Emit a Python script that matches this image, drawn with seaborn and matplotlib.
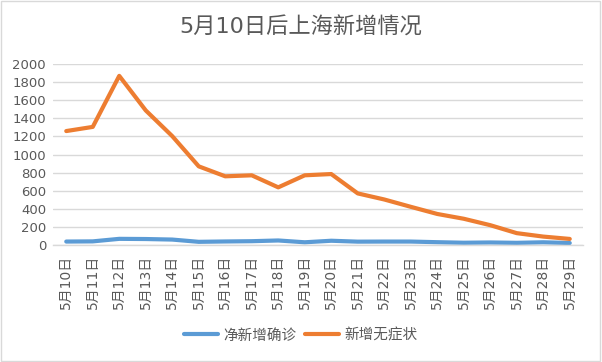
import matplotlib
matplotlib.use("Agg")
import matplotlib.pyplot as plt
import seaborn as sns
import pandas as pd
from matplotlib.patches import Rectangle

dates = ["5月10日", "5月11日", "5月12日", "5月13日", "5月14日", "5月15日", "5月16日",
         "5月17日", "5月18日", "5月19日", "5月20日", "5月21日", "5月22日", "5月23日",
         "5月24日", "5月25日", "5月26日", "5月27日", "5月28日", "5月29日"]
confirmed = [38, 40, 68, 66, 60, 35, 39, 42, 50, 30, 47, 37, 38, 38, 31, 25, 28, 24, 30, 22]
asymptomatic = [1259, 1305, 1869, 1487, 1203, 869, 759, 770, 637, 770, 784, 570,
                503, 422, 343, 290, 219, 131, 93, 67]
series_names = ["净新增确诊", "新增无症状"]
colors = ["#5B9BD5", "#ED7D31"]
yticks = [0, 200, 400, 600, 800, 1000, 1200, 1400, 1600, 1800, 2000]

sns.set_theme(style="white")
plt.rcParams["font.family"] = ["DejaVu Sans", "Noto Sans CJK SC"]

df = pd.DataFrame({
    "date": dates * 2,
    "value": confirmed + asymptomatic,
    "series": [series_names[0]] * len(dates) + [series_names[1]] * len(dates),
})
df["pos"] = list(range(len(dates))) * 2

fig = plt.figure(figsize=(6.02, 3.62), dpi=100)
ax = fig.add_axes([53 / 602, 1 - 245 / 362, (583 - 53) / 602, (245 - 64) / 362])

sns.lineplot(data=df, x="pos", y="value", hue="series", palette=colors,
             linewidth=3, ax=ax, legend=False)

ax.set_xlim(-0.5, len(dates) - 0.5)
ax.set_ylim(0, 2000)
ax.set_yticks(yticks)
ax.set_yticklabels([str(v) for v in yticks], fontsize=9.5, color="#595959")
ax.set_xticks(range(len(dates)))
ax.set_xticklabels(dates, rotation=90, fontsize=10, color="#595959")
ax.set_xticks([i - 0.5 for i in range(len(dates) + 1)], minor=True)
ax.tick_params(axis="x", which="major", length=0, pad=7)
ax.tick_params(axis="x", which="minor", length=5, color="#D9D9D9", width=1, direction="out")
ax.tick_params(axis="y", length=0, pad=5)
ax.set_xlabel("")
ax.set_ylabel("")
ax.grid(axis="y", color="#D9D9D9", linewidth=1)
ax.grid(axis="x", visible=False)
for s in ["top", "right", "left"]:
    ax.spines[s].set_visible(False)
ax.spines["bottom"].set_color("#D9D9D9")
ax.spines["bottom"].set_linewidth(1)
ax.set_axisbelow(True)

fig.text(0.5, 1 - 27 / 362, "5月10日后上海新增情况", ha="center", va="center",
         fontsize=16, color="#595959")

handles = [plt.Line2D([], [], color=c, linewidth=3) for c in colors]
fig.legend(handles, series_names, loc="center", bbox_to_anchor=(0.5, 1 - 335 / 362),
           ncol=2, frameon=False, fontsize=10.5, handlelength=2.3, columnspacing=0.6,
           handletextpad=0.4, labelcolor="#595959")

fig.add_artist(Rectangle((0.002, 0.003), 0.995, 0.993, transform=fig.transFigure,
                         fill=False, edgecolor="#D9D9D9", linewidth=1))

fig.savefig("out.png", dpi=100)
